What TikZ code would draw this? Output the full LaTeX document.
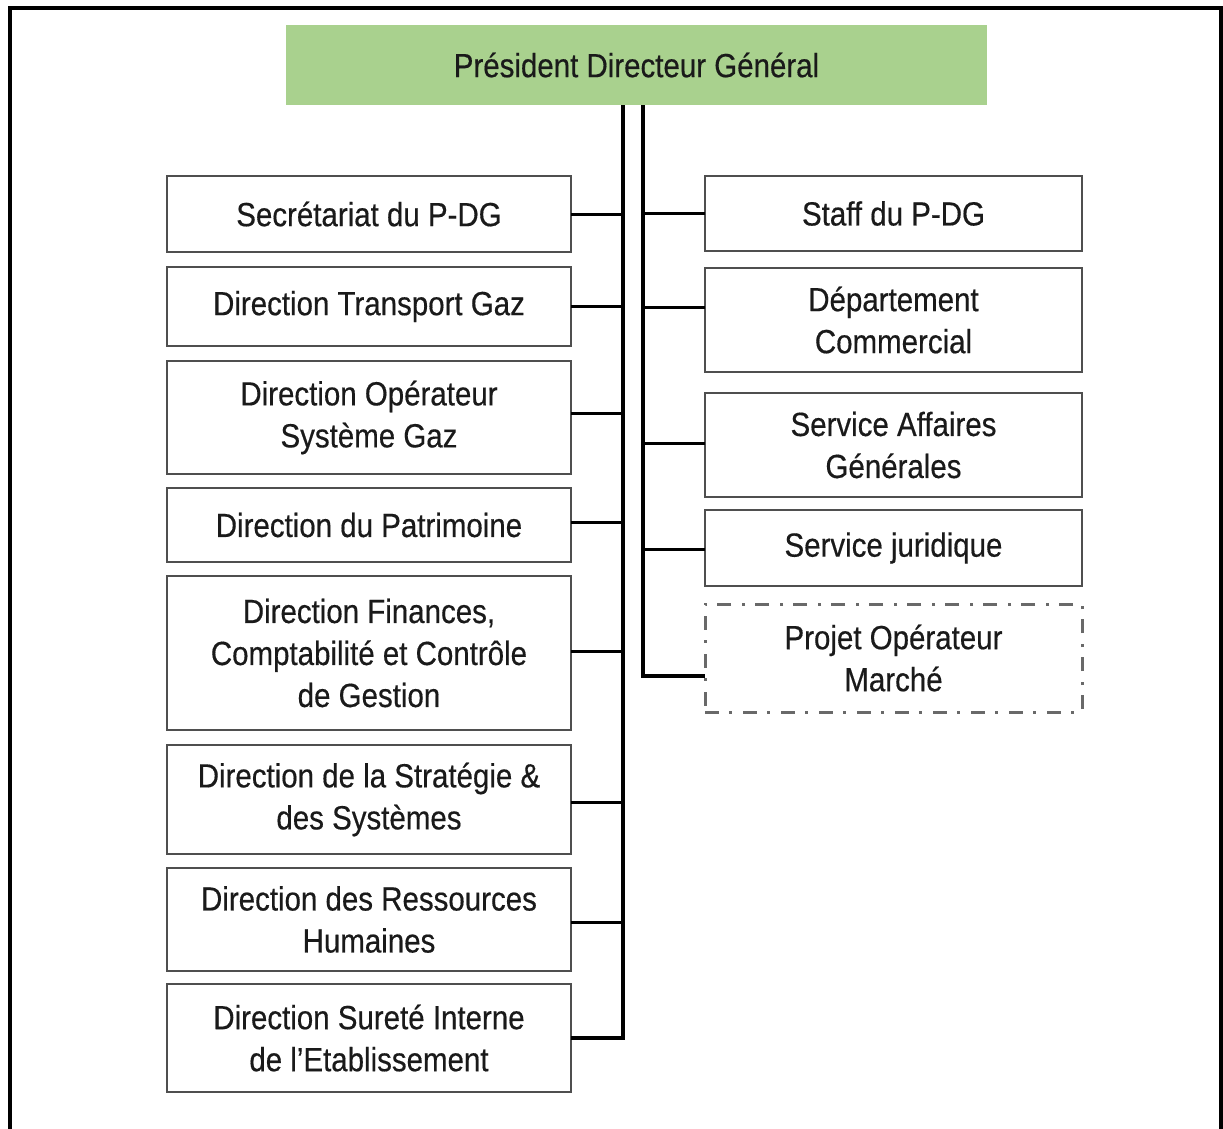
\documentclass[tikz,border=0pt]{standalone}
\usepackage{fontspec}
\setmainfont{Liberation Sans}[FakeStretch=0.88, FakeBold=0.4]
\begin{document}
\begin{tikzpicture}[x=1pt,y=-1pt,
  every node/.style={inner sep=0pt, outer sep=0pt},
  lbl/.style={font=\fontsize{33.5pt}{42pt}\selectfont, text=txtcol, align=center},
  unit/.style={lbl, draw=boxgray, line width=2.6pt, fill=white},
  lunit/.style={unit, minimum width=404pt},
  runit/.style={unit, minimum width=377pt},
  link/.style={line width=3pt, draw=black},
  trunk/.style={line width=3.3pt, draw=black}]
\definecolor{pdggreen}{HTML}{A9D18E}
\definecolor{boxgray}{HTML}{4F4F4F}
\definecolor{txtcol}{HTML}{1A1A1A}

\useasboundingbox (0,0) rectangle (1223,1128);
\fill[white] (0,0) rectangle (1223,1128);

% outer frame (open at the bottom)
\draw[line width=4pt] (10,1130) -- (10,8) -- (1221,8) -- (1221,1130);

% head of the organisation
\node[lbl, fill=pdggreen, minimum width=701pt, minimum height=80pt] (pdg) at (636.5,65) {Président Directeur Général};

% left column
\node[lunit, minimum height=76pt]  (sec) at (369,214)   {Secrétariat du P-DG};
\node[lunit, minimum height=79pt]  (dtg) at (369,306.5) {Direction Transport Gaz};
\node[lunit, minimum height=113pt] (dos) at (369,417.5) {Direction Opérateur\\Système Gaz};
\node[lunit, minimum height=74pt]  (dpa) at (369,525)   {Direction du Patrimoine};
\node[lunit, minimum height=154pt] (dfc) at (369,653)   {Direction Finances,\\Comptabilité et Contrôle\\de Gestion};
\node[lunit, minimum height=109pt] (dss) at (369,799.5) {Direction de la Stratégie \&\\des Systèmes};
\node[lunit, minimum height=103pt] (drh) at (369,919.5) {Direction des Ressources\\Humaines};
\node[lunit, minimum height=108pt] (dsi) at (369,1038)  {Direction Sureté Interne\\de l’Etablissement};

% right column
\node[runit, minimum height=75pt]  (stf) at (893.5,213.5) {Staff du P-DG};
\node[runit, minimum height=104pt] (dco) at (893.5,320)   {Département\\Commercial};
\node[runit, minimum height=104pt] (sag) at (893.5,445)   {Service Affaires\\Générales};
\node[runit, minimum height=76pt]  (sju) at (893.5,548)   {Service juridique};
\node[runit, draw=boxgray!85, line width=3pt, dash pattern=on 14pt off 10pt on 3pt off 11pt,
      minimum height=108pt] (pom) at (893.5,658) {Projet Opérateur\\Marché};

% trunk positions
\coordinate (L) at (623,0);
\coordinate (R) at (643,0);

% left trunk with its branches
\draw[trunk] (pdg.south -| L) -- (L |- dsi.east) -- (dsi.east);
\foreach \n/\dy in {sec/0,dtg/0,dos/4,dpa/3,dfc/2,dss/-2.5,drh/-2.5}
  \draw[link] ([yshift=\dy pt]\n.east) -- ([yshift=\dy pt]\n.east -| L);

% right trunk with its branches
\coordinate (pomc) at ([yshift=-18pt]pom.west);
\coordinate (dcoc) at ([yshift=13pt]dco.west);
\draw[trunk] (pdg.south -| R) -- (R |- pomc) -- (pomc);
\draw[link] (dcoc) -- (dcoc -| R);
\foreach \n/\dy in {stf/0,sag/2,sju/-1}
  \draw[link] ([yshift=\dy pt]\n.west) -- ([yshift=\dy pt]\n.west -| R);
\end{tikzpicture}
\end{document}
